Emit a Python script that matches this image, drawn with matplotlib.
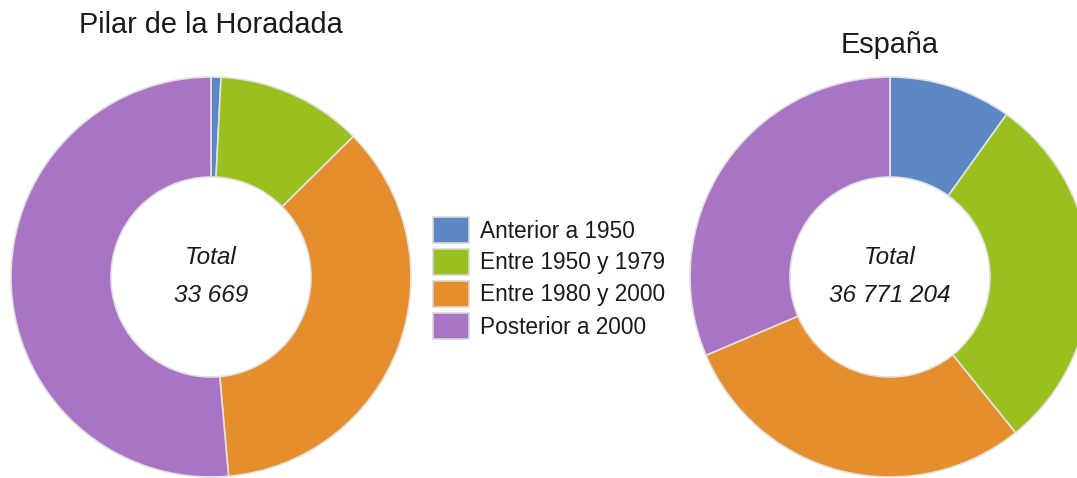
import matplotlib.pyplot as plt
from matplotlib.patches import Rectangle

plt.rcParams['font.family'] = ['Liberation Sans', 'DejaVu Sans']

# data
categories = ['Anterior a 1950', 'Entre 1950 y 1979', 'Entre 1980 y 2000', 'Posterior a 2000']
colors = ['#5b87c5', '#9bbf1e', '#e58e2e', '#aa74c4']
pilar_pct = [0.8, 11.8, 36.0, 51.4]
espana_pct = [9.9, 29.3, 29.4, 31.4]
titles = ['Pilar de la Horadada', 'España']
totals = ['33 669', '36 771 204']

W, H = 1077, 478
fig = plt.figure(figsize=(W / 100, H / 100), dpi=100)
ax = fig.add_axes([0, 0, 1, 1])


def yy(y):
    # pixel row (from top) -> data y (from bottom)
    return H - y


R = 200
centers = [(211, 277), (890, 277)]
title_y = [25, 45]

for (cx, cy), vals, title, tot, ty in zip(centers, [pilar_pct, espana_pct], titles, totals, title_y):
    ax.pie(vals, colors=colors, startangle=90, counterclock=False,
           center=(cx, yy(cy)), radius=R,
           wedgeprops=dict(width=R / 2, edgecolor='#e2e2e2', linewidth=1.2))
    ax.text(cx, yy(ty), title, ha='center', va='center', fontsize=20.8, color='#1a1a1a')
    ax.text(cx, yy(257), 'Total', ha='center', va='center', fontsize=17.5,
            style='italic', color='#1a1a1a')
    ax.text(cx, yy(296), tot, ha='center', va='center', fontsize=17.5,
            style='italic', color='#1a1a1a')

# legend
lx, ly, step = 433, 217, 32
for i, (lab, c) in enumerate(zip(categories, colors)):
    y0 = ly + i * step
    ax.add_patch(Rectangle((lx, yy(y0 + 26)), 36, 26, facecolor=c,
                           edgecolor='#d8d8d8', linewidth=1.2))
    ax.text(480, yy(y0 + 14), lab, ha='left', va='center', fontsize=16.3, color='#1a1a1a')

ax.set_xlim(0, W)
ax.set_ylim(0, H)
ax.set_aspect('equal')
ax.axis('off')

fig.savefig('out.png', dpi=100)
